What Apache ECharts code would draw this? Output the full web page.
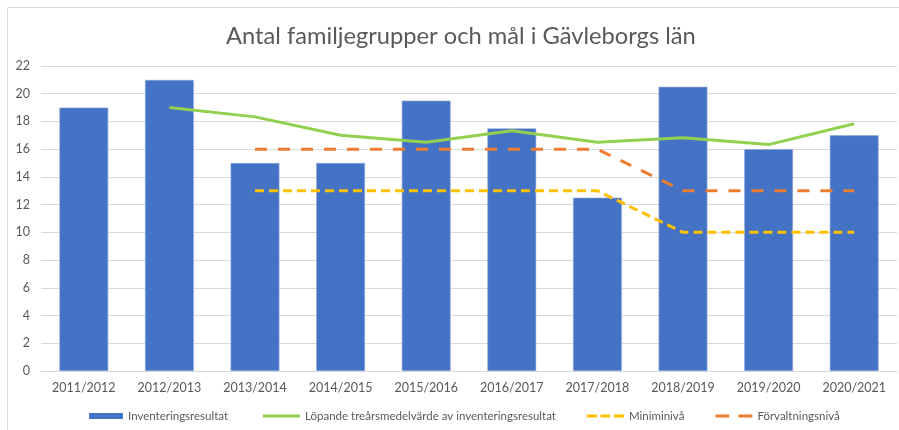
<!DOCTYPE html>
<html><head><meta charset="utf-8">
<script src="https://cdn.jsdelivr.net/npm/echarts@6/dist/echarts.min.js"></script>
<style>html,body{margin:0;padding:0;background:#fff}#c{width:899px;height:430px}</style>
</head><body><div id="c"></div>
<script>
const categories = ['2011/2012','2012/2013','2013/2014','2014/2015','2015/2016','2016/2017','2017/2018','2018/2019','2019/2020','2020/2021'];
const inventering = [19, 21, 15, 15, 19.5, 17.5, 12.5, 20.5, 16, 17];
const lopande = [null, 19, 18.33, 17, 16.5, 17.33, 16.5, 16.83, 16.33, 17.83];
const miniminiva = [null, null, 13, 13, 13, 13, 13, 10, 10, 10];
const forvaltning = [null, null, 16, 16, 16, 16, 16, 13, 13, 13];
const yTicks = { min: 0, max: 22, interval: 2 };

const FONT = 'Lato';
const legendText = { fontFamily: FONT, fontSize: 11.5, color: '#595959' };
const chart = echarts.init(document.getElementById('c'), null, {renderer: 'canvas'});
chart.setOption({
  animation: false,
  textStyle: { fontFamily: FONT },
  graphic: [{
    type: 'rect', left: 7, top: 7, z: -10,
    shape: { width: 900, height: 430 },
    style: { fill: '#fff', stroke: '#d9d9d9', lineWidth: 1 }
  }],
  title: {
    text: 'Antal familjegrupper och mål i Gävleborgs län',
    left: 221, top: 19,
    textStyle: { fontFamily: FONT, fontSize: 23.7, fontWeight: 'normal', color: '#595959' }
  },
  legend: [{
    top: 405, left: 84, itemWidth: 34, itemHeight: 6, itemGap: 30, itemStyle: { borderWidth: 0 },
    textStyle: legendText,
    data: [{ name: 'Inventeringsresultat', icon: 'rect' }]
  }, {
    top: 405, left: 258, itemWidth: 37, itemHeight: 3, itemGap: 31, itemStyle: { borderWidth: 0 },
    textStyle: legendText,
    data: [
      { name: 'Löpande treårsmedelvärde av inventeringsresultat', icon: 'path://M0,0h37v3h-37z' },
      { name: 'Miniminivå', icon: 'path://M0,0h10v3h-10zM13.5,0h10v3h-10zM27,0h10v3h-10z' },
      { name: 'Förvaltningsnivå', icon: 'path://M0,0h14v3h-14zM23,0h14v3h-14z' }
    ]
  }],
  grid: { left: 41, right: 2, top: 66, bottom: 59, containLabel: false },
  xAxis: {
    type: 'category', data: categories,
    axisLine: { lineStyle: { color: '#d9d9d9' } },
    axisTick: { show: false },
    axisLabel: { color: '#595959', fontSize: 12.5, margin: 10, fontFamily: FONT }
  },
  yAxis: {
    type: 'value', min: yTicks.min, max: yTicks.max, interval: yTicks.interval,
    axisLine: { show: false }, axisTick: { show: false },
    splitLine: { lineStyle: { color: '#d9d9d9', width: 1 } },
    axisLabel: { color: '#595959', fontSize: 12.5, margin: 11, fontFamily: FONT }
  },
  series: [
    { name: 'Inventeringsresultat', type: 'bar', data: inventering, barWidth: '57%',
      itemStyle: { color: '#4472C4', borderColor: '#8faadc', borderWidth: 0.6 } },
    { name: 'Löpande treårsmedelvärde av inventeringsresultat', type: 'line', data: lopande,
      symbol: 'none', lineStyle: { color: '#92D050', width: 3 }, itemStyle: { color: '#92D050' } },
    { name: 'Miniminivå', type: 'line', data: miniminiva, symbol: 'none',
      lineStyle: { color: '#FFC000', width: 3, type: [9, 5], cap: 'butt' }, itemStyle: { color: '#FFC000' } },
    { name: 'Förvaltningsnivå', type: 'line', data: forvaltning, symbol: 'none',
      lineStyle: { color: '#ED7D31', width: 3, type: [12, 11], cap: 'butt' }, itemStyle: { color: '#ED7D31' } }
  ]
});
</script></body></html>
